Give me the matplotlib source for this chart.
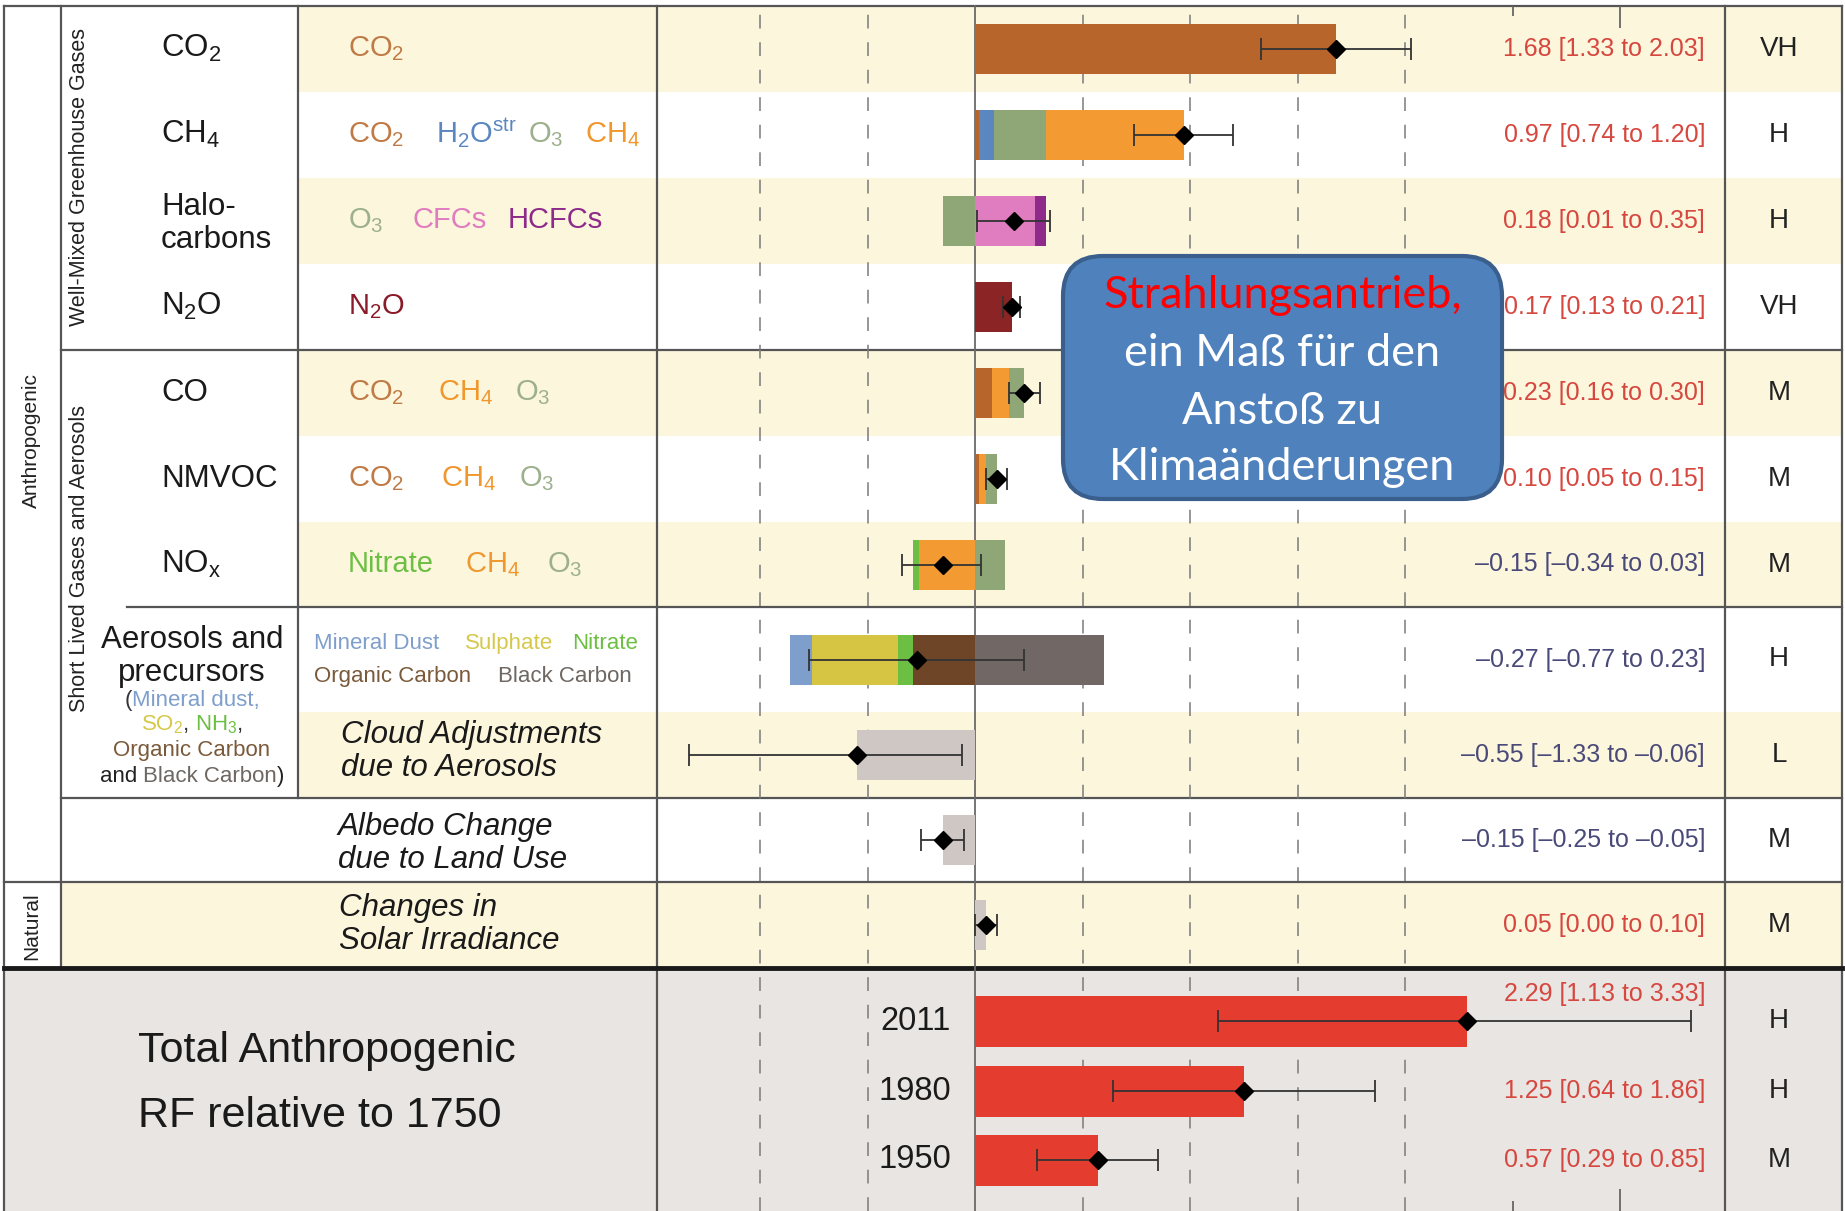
import matplotlib
matplotlib.use('Agg')
import matplotlib.pyplot as plt
from matplotlib.patches import Rectangle, FancyBboxPatch
import numpy as np

plt.rcParams['font.family'] = ['Liberation Sans', 'DejaVu Sans']
plt.rcParams['mathtext.fontset'] = 'custom'
plt.rcParams['mathtext.rm'] = 'Liberation Sans'
plt.rcParams['mathtext.it'] = 'Liberation Sans:italic'
plt.rcParams['mathtext.bf'] = 'Liberation Sans:bold'

# ---------------- DATA ----------------
best = [1.68, 0.97, 0.18, 0.17, 0.23, 0.10, -0.15, -0.27, -0.55, -0.15, 0.05]
low = [1.33, 0.74, 0.01, 0.13, 0.16, 0.05, -0.34, -0.77, -1.33, -0.25, 0.00]
high = [2.03, 1.20, 0.35, 0.21, 0.30, 0.15, 0.03, 0.23, -0.06, -0.05, 0.10]
confidence = ['VH', 'H', 'H', 'VH', 'M', 'M', 'M', 'H', 'L', 'M', 'M']

# stacked components (name, value); negatives stack leftwards from zero in order
comp_co2 = [('CO2', 1.68)]
comp_ch4 = [('CO2', 0.02), ('H2Ostr', 0.07), ('O3', 0.24), ('CH4', 0.64)]
comp_halo = [('O3', -0.15), ('CFCs', 0.28), ('HCFCs', 0.05)]
comp_n2o = [('N2O', 0.17)]
comp_co = [('CO2', 0.08), ('CH4', 0.08), ('O3', 0.07)]
comp_nmvoc = [('CO2', 0.02), ('CH4', 0.03), ('O3', 0.05)]
comp_nox = [('CH4', -0.26), ('Nitrate', -0.03), ('O3', 0.14)]
comp_aer = [('OC', -0.29), ('Nitrate', -0.07), ('Sulphate', -0.40), ('Dust', -0.10), ('BC', 0.60)]
comp_cloud = [('Grey', -0.55)]
comp_albedo = [('Grey', -0.15)]
comp_solar = [('Grey', 0.05)]
components = [comp_co2, comp_ch4, comp_halo, comp_n2o, comp_co, comp_nmvoc,
              comp_nox, comp_aer, comp_cloud, comp_albedo, comp_solar]

total_years = ['2011', '1980', '1950']
total_best = [2.29, 1.25, 0.57]
total_low = [1.13, 0.64, 0.29]
total_high = [3.33, 1.86, 0.85]
total_conf = ['H', 'H', 'M']

row_names = ['CO$_2$', 'CH$_4$', 'Halo-\ncarbons', 'N$_2$O', 'CO', 'NMVOC', 'NO$_{\\rm x}$']

# ---------------- STYLE ----------------
comp_colors = {'CO2': '#B7652B', 'H2Ostr': '#5B87C1', 'O3': '#8FA677', 'CH4': '#F39A33',
               'CFCs': '#E07CC0', 'HCFCs': '#8E2A8A', 'N2O': '#8B2525', 'Nitrate': '#6CBF43',
               'Dust': '#7E9FCB', 'Sulphate': '#D5C542', 'OC': '#6E4526', 'BC': '#716865',
               'Grey': '#CEC7C4'}
lbl = {'CO2': '#C07A45', 'H2O': '#5B87C1', 'O3': '#9DB08D', 'CH4': '#F0982E',
       'CFCs': '#E07CC0', 'HCFCs': '#8E2A8A', 'N2O': '#8B1A2A', 'Nitrate': '#6CBF43',
       'Dust': '#7E9FCB', 'Sulphate': '#D5C84A', 'OC': '#7A5A3A', 'BC': '#6E6762'}
RED_TXT = '#D6473F'
NEG_TXT = '#4A4A7A'
YELLOW = '#FCF6DC'
GREY_BG = '#E9E5E2'
LINE = '#555555'

W, H = 1845, 1211
X_LEFT, X_SEC, X_NAME, X_CHART, X_CONF, X_RIGHT = 3.5, 61, 298, 656.5, 1725, 1841.5
row_edges = [6, 92, 178, 264, 350, 436, 522, 607, 712, 798, 882, 968]
row_centers = [(a + b) / 2 for a, b in zip(row_edges[:-1], row_edges[1:])]
total_centers = [1021, 1091, 1160]
BAR_H = 50
ZERO_PX, PX_PER_UNIT = 975.0, 215.0

fig = plt.figure(figsize=(W / 100, H / 100), dpi=100)
renderer = fig.canvas.get_renderer()

# ---------------- background / table ----------------
bg = fig.add_axes([0, 0, 1, 1])
bg.set_xlim(0, W)
bg.set_ylim(H, 0)
bg.axis('off')

for i in [0, 2, 4, 6, 8]:
    bg.add_patch(Rectangle((X_NAME, row_edges[i]), X_RIGHT - X_NAME,
                           row_edges[i + 1] - row_edges[i], color=YELLOW, lw=0, zorder=0))
bg.add_patch(Rectangle((X_SEC, row_edges[10]), X_RIGHT - X_SEC,
                       row_edges[11] - row_edges[10], color=YELLOW, lw=0, zorder=0))
bg.add_patch(Rectangle((X_LEFT, 968), X_RIGHT - X_LEFT, H - 968, color=GREY_BG, lw=0, zorder=0))

lw = 1.6
bg.plot([X_LEFT, X_RIGHT], [6, 6], color=LINE, lw=lw)
bg.plot([X_LEFT, X_LEFT], [6, H], color=LINE, lw=lw)
bg.plot([X_RIGHT, X_RIGHT], [6, H], color=LINE, lw=lw)
bg.plot([X_SEC, X_SEC], [6, 968], color=LINE, lw=lw)
bg.plot([X_NAME, X_NAME], [6, 798], color=LINE, lw=lw)
bg.plot([X_CHART, X_CHART], [6, H], color=LINE, lw=lw)
bg.plot([X_CONF, X_CONF], [6, H], color=LINE, lw=lw)
bg.plot([X_SEC, X_RIGHT], [350, 350], color=LINE, lw=lw)
bg.plot([127, X_RIGHT], [607, 607], color=LINE, lw=lw)
bg.plot([X_SEC, X_RIGHT], [798, 798], color=LINE, lw=lw)
bg.plot([X_LEFT, X_RIGHT], [882, 882], color=LINE, lw=lw)
bg.plot([X_LEFT, X_RIGHT], [968, 968], color='#1a1a1a', lw=3.5)


def bl(yc, size):
    return yc + 0.358 * size * 100 / 72


def pieces(x, yc, parts, size, ha='left', **kw):
    texts, widths = [], []
    for s, c in parts:
        t = bg.text(0, bl(yc, size), s, color=c, fontsize=size, va='baseline', ha='left', **kw)
        widths.append(t.get_window_extent(renderer=renderer).width)
        texts.append(t)
    cur = x - sum(widths) / 2 if ha == 'center' else x
    for t, w_ in zip(texts, widths):
        t.set_x(cur)
        cur += w_


# section labels (vertical)
bg.text(31.8, 441, 'Anthropogenic', rotation=90, ha='center', va='center', fontsize=15, color='#222')
bg.text(31.8, 926, 'Natural', rotation=90, ha='center', va='center', fontsize=15, color='#222')
bg.text(80, 177, 'Well-Mixed Greenhouse Gases', rotation=90, ha='center', va='center',
        fontsize=15.5, color='#222')
bg.text(80, 558, 'Short Lived Gases and Aerosols', rotation=90, ha='center', va='center',
        fontsize=15.5, color='#222')

# row names
NAME_FS = 22.5
for i, name in enumerate(row_names):
    if '\n' in name:
        l1, l2 = name.split('\n')
        bg.text(161, bl(row_centers[i] - 17, NAME_FS), l1, fontsize=NAME_FS, va='baseline', color='#1a1a1a')
        bg.text(161, bl(row_centers[i] + 16, NAME_FS), l2, fontsize=NAME_FS, va='baseline', color='#1a1a1a')
    else:
        bg.text(161, bl(row_centers[i] - 3, NAME_FS), name, fontsize=NAME_FS, va='baseline', color='#1a1a1a')

# colored component labels
CF = 21
def clabel(x, i, s, c):
    bg.text(x, bl(row_centers[i] - 3, CF), s, fontsize=CF, va='baseline', color=c)

clabel(348, 0, 'CO$_2$', lbl['CO2'])
clabel(348, 1, 'CO$_2$', lbl['CO2']); clabel(436, 1, 'H$_2$O$^{\\rm str}$', lbl['H2O'])
clabel(528, 1, 'O$_3$', lbl['O3']); clabel(585, 1, 'CH$_4$', lbl['CH4'])
clabel(348, 2, 'O$_3$', lbl['O3']); clabel(412, 2, 'CFCs', lbl['CFCs']); clabel(508, 2, 'HCFCs', lbl['HCFCs'])
clabel(348, 3, 'N$_2$O', lbl['N2O'])
clabel(348, 4, 'CO$_2$', lbl['CO2']); clabel(438, 4, 'CH$_4$', lbl['CH4']); clabel(515, 4, 'O$_3$', lbl['O3'])
clabel(348, 5, 'CO$_2$', lbl['CO2']); clabel(441, 5, 'CH$_4$', lbl['CH4']); clabel(519, 5, 'O$_3$', lbl['O3'])
clabel(348, 6, 'Nitrate', lbl['Nitrate']); clabel(465, 6, 'CH$_4$', lbl['CH4']); clabel(547, 6, 'O$_3$', lbl['O3'])

AF = 16
bg.text(314, bl(641, AF), 'Mineral Dust', fontsize=AF, va='baseline', color=lbl['Dust'])
bg.text(465, bl(641, AF), 'Sulphate', fontsize=AF, va='baseline', color=lbl['Sulphate'])
bg.text(572, bl(641, AF), 'Nitrate', fontsize=AF, va='baseline', color=lbl['Nitrate'])
bg.text(314, bl(674, AF), 'Organic Carbon', fontsize=AF, va='baseline', color=lbl['OC'])
bg.text(498, bl(674, AF), 'Black Carbon', fontsize=AF, va='baseline', color=lbl['BC'])

# aerosol name block
pieces(192, 637, [('Aerosols and', '#1a1a1a')], NAME_FS, ha='center')
pieces(192, 670, [('precursors', '#1a1a1a')], NAME_FS, ha='center')
pieces(192, 698, [('(', '#333'), ('Mineral dust,', lbl['Dust'])], AF, ha='center')
pieces(192, 722, [('SO$_2$', lbl['Sulphate']), (', ', '#333'), ('NH$_3$', lbl['Nitrate']), (',', '#333')], AF, ha='center')
pieces(192, 748, [('Organic Carbon', lbl['OC'])], AF, ha='center')
pieces(192, 774, [('and ', '#222'), ('Black Carbon', lbl['BC']), (')', '#222')], AF, ha='center')

# italic labels
IF = 22.5
for x, y, s in [(341, 735, 'Cloud Adjustments'), (341, 768, 'due to Aerosols'),
                (338, 827, 'Albedo Change'), (338, 860, 'due to Land Use'),
                (339, 908, 'Changes in'), (339, 941, 'Solar Irradiance')]:
    bg.text(x, y, s, fontsize=IF, style='italic', va='center', color='#1a1a1a')

bg.text(138, 1051, 'Total Anthropogenic', fontsize=31, va='center', color='#1a1a1a')
bg.text(138, 1116, 'RF relative to 1750', fontsize=31, va='center', color='#1a1a1a')
for yr, yc in zip(total_years, total_centers):
    bg.text(951, yc, yr, fontsize=23.5, ha='right', va='center', color='#1a1a1a')

# ---------------- bar chart axes ----------------
ax = fig.add_axes([X_CHART / W, 0, (X_CONF - X_CHART) / W, 1])
ax.set_xlim((X_CHART - ZERO_PX) / PX_PER_UNIT, (X_CONF - ZERO_PX) / PX_PER_UNIT)
ax.set_ylim(H, 0)
ax.axis('off')
ax.patch.set_visible(False)

for xv in [-1.0, -0.5, 0.5, 1.0, 1.5, 2.0]:
    ax.axvline(xv, ymin=0, ymax=1 - 6 / H, color='#7a7a7a', lw=1.1, dashes=(9, 9), zorder=1)
ax.axvline(0, ymin=0, ymax=1 - 6 / H, color='#6a6a6a', lw=1.3, zorder=1)
ax.vlines([2.5], 6, 16, color='#666', lw=1.3)
ax.vlines([3.0], 6, 28, color='#666', lw=1.3)
ax.vlines([2.5], H - 10, H, color='#666', lw=1.3)
ax.vlines([3.0], H - 22, H, color='#666', lw=1.3)

for i, comps in enumerate(components):
    pos, neg = 0.0, 0.0
    for name, v in comps:
        if v >= 0:
            ax.barh(row_centers[i], v, left=pos, height=BAR_H, color=comp_colors[name], lw=0, zorder=3)
            pos += v
        else:
            ax.barh(row_centers[i], v, left=neg, height=BAR_H, color=comp_colors[name], lw=0, zorder=3)
            neg += v

ax.barh(total_centers, total_best, height=51, color='#E43D2F', lw=0, zorder=3)

b = np.array(best); lo = np.array(low); hi = np.array(high)
ax.errorbar(b, row_centers, xerr=[b - lo, hi - b], fmt='none', ecolor='#333333',
            elinewidth=1.3, capsize=8, capthick=1.3, zorder=4)
ax.plot(b, row_centers, 'D', color='black', ms=9, zorder=5)
tb = np.array(total_best); tl = np.array(total_low); th = np.array(total_high)
ax.errorbar(tb, total_centers, xerr=[tb - tl, th - tb], fmt='none', ecolor='#333333',
            elinewidth=1.3, capsize=8, capthick=1.3, zorder=4)
ax.plot(tb, total_centers, 'D', color='black', ms=9, zorder=5)

# value texts
def fmt(v):
    s = f'{abs(v):.2f}'
    return ('\u2013' + s) if v < 0 else s

VF = 18
CONF_FS = 20
for i in range(len(best)):
    txt = f'{fmt(best[i])} [{fmt(low[i])} to {fmt(high[i])}]'
    col = NEG_TXT if best[i] < 0 else RED_TXT
    bg.text(1705, row_centers[i], txt, fontsize=VF, ha='right', va='center', color=col, zorder=6)
    bg.text(1779, row_centers[i], confidence[i], fontsize=CONF_FS, ha='center', va='center', color='#222')
val_y = [994, 1091, 1160]
for j in range(3):
    txt = f'{fmt(total_best[j])} [{fmt(total_low[j])} to {fmt(total_high[j])}]'
    bg.text(1705, val_y[j], txt, fontsize=VF, ha='right', va='center', color=RED_TXT)
    bg.text(1779, total_centers[j], total_conf[j], fontsize=CONF_FS, ha='center', va='center', color='#222')

# ---------------- overlay annotation box ----------------
ov = fig.add_axes([0, 0, 1, 1])
ov.set_xlim(0, W)
ov.set_ylim(H, 0)
ov.axis('off')
ov.patch.set_visible(False)
ov.add_patch(FancyBboxPatch((1063, 256), 439, 243, boxstyle='round,pad=0,rounding_size=40',
                            facecolor='#4F81BD', edgecolor='#3A5F8C', lw=3))
BF = 32.5
ov.text(1282.5, 295, 'Strahlungsantrieb,', color='#FF0000', fontsize=BF, ha='center', va='center', family='Lato')
ov.text(1282.5, 353, 'ein Maß für den', color='white', fontsize=BF, ha='center', va='center', family='Lato')
ov.text(1282.5, 411, 'Anstoß zu', color='white', fontsize=BF, ha='center', va='center', family='Lato')
ov.text(1282.5, 467, 'Klimaänderungen', color='white', fontsize=BF, ha='center', va='center', family='Lato')

fig.savefig('out.png', dpi=100)
